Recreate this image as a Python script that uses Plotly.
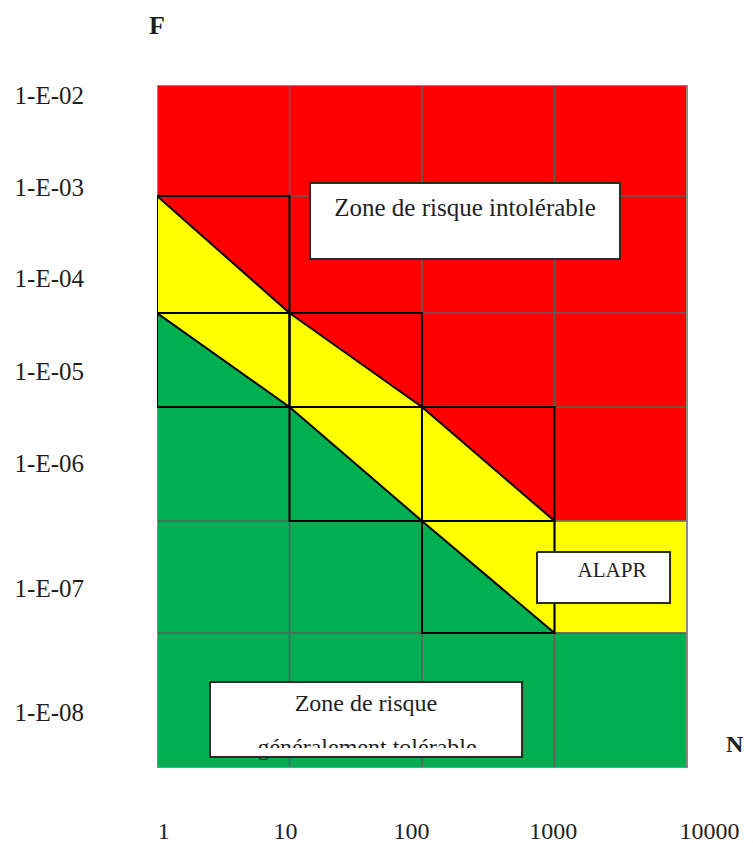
import math
import plotly.graph_objects as go

# ---------------- data ----------------
N_EDGES = [1, 10, 100, 1000, 10000]                       # column edges (N)
F_ROW_EDGES = [6.83, 5.72, 4.55, 3.61, 2.47, 1.35, 0.0]   # row edges on the F scale, top -> bottom
# zone of each cell, rows top -> bottom, columns left -> right
# "RY": upper-right red / lower-left yellow ; "YG": upper-right yellow / lower-left green
ZONES = [
    ["R",  "R",  "R",  "R"],
    ["RY", "R",  "R",  "R"],
    ["YG", "RY", "R",  "R"],
    ["G",  "YG", "RY", "R"],
    ["G",  "G",  "YG", "Y"],
    ["G",  "G",  "G",  "G"],
]
Y_TICK_POS = [6.73, 5.805, 4.90, 3.965, 3.05, 1.80, 0.56]
Y_TICK_TEXT = ["1-E-02", "1-E-03", "1-E-04", "1-E-05", "1-E-06", "1-E-07", "1-E-08"]
X_TICK_POS = [0.05, 0.97, 1.92, 2.99, 4.17]               # log10(N) position of each label
X_TICK_TEXT = ["1", "10", "100", "1000", "10000"]

BOX_X0 = [1.155, 2.868, 0.40]
BOX_X1 = [3.494, 3.872, 2.755]
BOX_Y0 = [5.09, 1.65, 0.11]
BOX_Y1 = [5.85, 2.16, 0.86]
LABEL_TEXT = ["Zone de risque intolérable", "ALAPR", "Zone de risque", "généralement tolérable"]
LABEL_X = [2.325, 3.434, 1.577, 1.585]
LABEL_Y = [5.587, 1.964, 0.634, 0.19]
LABEL_SIZE = [25, 21, 24, 24]
CLIP_Y = 0.20   # the lower text line of box 3 is cut here

COLORS = {"R": "#FF0000", "Y": "#FFFF00", "G": "#00B050"}
FONT = "Liberation Serif"

# page offset of the browser's default body margin
PAGE_PAD = 8

# ---------------- build ----------------
LX = [math.log10(v) for v in N_EDGES]
polys = {"R": ([], []), "Y": ([], []), "G": ([], [])}


def add_poly(key, pts):
    xs, ys = polys[key]
    for p in pts + [pts[0]]:
        xs.append(p[0]); ys.append(p[1])
    xs.append(None); ys.append(None)


diag_cells = []
for r, row in enumerate(ZONES):
    for c, z in enumerate(row):
        x0, x1 = LX[c], LX[c + 1]
        yt, yb = F_ROW_EDGES[r], F_ROW_EDGES[r + 1]
        if len(z) == 1:
            add_poly(z, [(x0, yt), (x1, yt), (x1, yb), (x0, yb)])
        else:
            add_poly(z[0], [(x0, yt), (x1, yt), (x1, yb)])
            add_poly(z[1], [(x0, yt), (x0, yb), (x1, yb)])
            diag_cells.append((x0, x1, yt, yb))

fig = go.Figure()
for key in ["R", "Y", "G"]:
    xs, ys = polys[key]
    fig.add_trace(go.Scatter(x=xs, y=ys, mode="lines", fill="toself",
                             fillcolor=COLORS[key], line=dict(color=COLORS[key], width=1),
                             hoverinfo="skip", showlegend=False))

# grey grid
gx, gy = [], []
for x in LX[1:-1]:
    gx += [x, x, None]; gy += [F_ROW_EDGES[0], F_ROW_EDGES[-1], None]
for y in F_ROW_EDGES[1:-1]:
    gx += [LX[0], LX[-1], None]; gy += [y, y, None]
fig.add_trace(go.Scatter(x=gx, y=gy, mode="lines", line=dict(color="#5e5e5e", width=1.6),
                         hoverinfo="skip", showlegend=False))
# outer border
bx = [LX[0], LX[-1], LX[-1], LX[0], LX[0]]
by = [F_ROW_EDGES[0], F_ROW_EDGES[0], F_ROW_EDGES[-1], F_ROW_EDGES[-1], F_ROW_EDGES[0]]
fig.add_trace(go.Scatter(x=bx, y=by, mode="lines", line=dict(color="#8a8a8a", width=2),
                         hoverinfo="skip", showlegend=False))

# black outlines of the transition cells
kx, ky = [], []
for (x0, x1, yt, yb) in diag_cells:
    kx += [x0, x1, x1, x0, x0, None, x0, x1, None]
    ky += [yt, yt, yb, yb, yt, None, yt, yb, None]
fig.add_trace(go.Scatter(x=kx, y=ky, mode="lines", line=dict(color="#000000", width=2),
                         hoverinfo="skip", showlegend=False))

# white label boxes
for i in range(len(BOX_X0)):
    fig.add_trace(go.Scatter(
        x=[BOX_X0[i], BOX_X1[i], BOX_X1[i], BOX_X0[i], BOX_X0[i]],
        y=[BOX_Y1[i], BOX_Y1[i], BOX_Y0[i], BOX_Y0[i], BOX_Y1[i]],
        mode="lines", fill="toself", fillcolor="white",
        line=dict(color="#2b2b2b", width=2), hoverinfo="skip", showlegend=False))

# labels
for i in range(len(LABEL_TEXT)):
    fig.add_trace(go.Scatter(x=[LABEL_X[i]], y=[LABEL_Y[i]], mode="text", text=[LABEL_TEXT[i]],
                             textposition="middle center",
                             textfont=dict(family=FONT, size=LABEL_SIZE[i], color="#1e1e1e"),
                             hoverinfo="skip", showlegend=False, cliponaxis=False))

# white strip hiding the bottom of the last text line, then the box outline again
fig.add_trace(go.Scatter(
    x=[BOX_X0[2], BOX_X1[2], BOX_X1[2], BOX_X0[2], BOX_X0[2]],
    y=[CLIP_Y, CLIP_Y, BOX_Y0[2], BOX_Y0[2], CLIP_Y],
    mode="lines", fill="toself", fillcolor="white", line=dict(color="white", width=0),
    hoverinfo="skip", showlegend=False))
fig.add_trace(go.Scatter(
    x=[BOX_X0[2], BOX_X1[2], BOX_X1[2], BOX_X0[2], BOX_X0[2]],
    y=[BOX_Y1[2], BOX_Y1[2], BOX_Y0[2], BOX_Y0[2], BOX_Y1[2]],
    mode="lines", line=dict(color="#2b2b2b", width=2), hoverinfo="skip", showlegend=False))

fig.update_layout(
    width=753 - PAGE_PAD, height=843 - PAGE_PAD,
    margin=dict(l=157 - PAGE_PAD, r=13, t=85 - PAGE_PAD, b=75, autoexpand=False),
    template="none",
    paper_bgcolor="white", plot_bgcolor="white",
    showlegend=False,
    xaxis=dict(range=[0, 4.4], showgrid=False, zeroline=False, showline=False, ticks="",
               tickmode="array", tickvals=X_TICK_POS, ticktext=X_TICK_TEXT,
               tickfont=dict(family=FONT, size=24, color="#1e1e1e"),
               ticklabelstandoff=46, automargin=False, fixedrange=True),
    yaxis=dict(range=[0, 6.83], showgrid=False, zeroline=False, showline=False, ticks="",
               tickmode="array", tickvals=Y_TICK_POS, ticktext=Y_TICK_TEXT,
               tickfont=dict(family=FONT, size=25, color="#1e1e1e"),
               ticklabelstandoff=72, automargin=False, fixedrange=True),
    annotations=[
        dict(x=0, y=1.0878, xref="x", yref="paper", text="<b>F</b>", showarrow=False,
             font=dict(family=FONT, size=26, color="#1e1e1e"), xanchor="center", yanchor="middle"),
        dict(x=1.0, y=0.24, xref="paper", yref="y", text="<b>N</b>", showarrow=False,
             font=dict(family=FONT, size=24, color="#1e1e1e"), xanchor="right", yanchor="middle",
             xshift=6),
    ],
)

fig.write_html("out.html")
